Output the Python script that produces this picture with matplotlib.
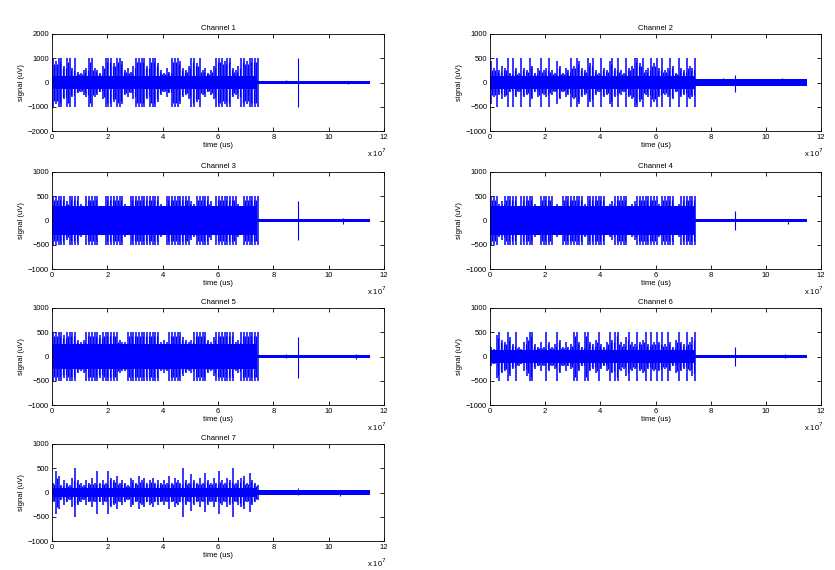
import numpy as np
import matplotlib
matplotlib.use("Agg")
import matplotlib.pyplot as plt

plt.rcParams['font.family'] = ['Liberation Sans', 'DejaVu Sans']

# peak amplitude (uV) per 0.1e7 us bin over the active part (0 .. 7.4e7 us)
ch1_peak = [1000, 900, 1000, 1000, 700, 1000, 1000, 600, 1000,
            450, 400, 500, 600,
            1000, 1000,
            600, 500, 400, 700,
            1000, 1000, 1000, 800, 1000, 1000, 900,
            500, 600, 450, 700,
            1000, 1000, 1000, 1000, 700, 1000, 1000, 1000, 800,
            500, 400, 600, 450,
            1000, 1000, 1000, 900,
            600, 500, 700,
            1000, 1000, 800, 1000,
            500, 600, 400, 500, 700,
            1000, 1000, 1000, 900, 1000, 1000,
            600, 500, 700,
            1000, 1000, 900, 1000, 1000, 1000, 1000]
ch2_peak = [450, 300, 500, 250, 350, 300, 500, 200, 500, 300,
            200, 500, 300, 250, 500, 350, 200, 300, 500, 250,
            300, 500, 250, 200, 450, 350, 200, 300, 250, 500,
            350, 500, 450, 300, 250, 500, 400, 500, 250, 200,
            500, 300, 250, 450, 500, 300, 500, 250, 200, 500,
            300, 350, 500, 500, 400, 500, 250, 300, 500, 400,
            500, 300, 500, 250, 300, 500, 350, 200, 500, 300,
            250, 500, 350, 300, 500]
ch3_peak = [500, 500, 500, 500, 500, 400, 500, 500, 500, 500,
            350, 300, 500, 500, 500, 500, 500, 300, 250, 500,
            500, 500, 500, 500, 500, 500, 350, 300, 500, 500,
            500, 500, 500, 500, 500, 500, 500, 500, 500, 350,
            300, 500, 500, 500, 500, 500, 500, 500, 500, 500,
            400, 350, 500, 500, 500, 500, 500, 400, 300, 500,
            500, 500, 500, 500, 500, 500, 500, 350, 300, 500,
            500, 500, 500, 500, 500]
ch4_peak = [500, 500, 500, 350, 400, 500, 500, 500, 500, 500,
            300, 500, 500, 500, 500, 500, 350, 300, 500, 500,
            500, 500, 500, 300, 350, 300, 500, 500, 500, 500,
            500, 500, 500, 500, 350, 500, 500, 500, 500, 500,
            500, 500, 300, 350, 400, 500, 500, 500, 500, 500,
            300, 350, 400, 500, 500, 500, 500, 500, 500, 500,
            500, 350, 500, 500, 500, 500, 500, 300, 350, 500,
            500, 500, 500, 500, 500]
ch5_peak = [500, 500, 500, 500, 450, 500, 500, 500, 500, 350,
            300, 350, 500, 500, 500, 500, 500, 450, 500, 500,
            500, 500, 500, 500, 350, 300, 300, 500, 500, 500,
            500, 500, 500, 500, 500, 500, 500, 500, 500, 300,
            350, 300, 500, 500, 500, 500, 500, 400, 350, 300,
            350, 500, 500, 500, 500, 500, 350, 300, 400, 500,
            500, 500, 500, 500, 500, 500, 300, 350, 500, 500,
            500, 500, 500, 500, 500]
ch6_peak = [200, 150, 450, 500, 350, 300, 500, 400, 250, 500,
            200, 150, 300, 400, 500, 500, 250, 200, 300, 200,
            500, 300, 200, 250, 500, 350, 200, 300, 200, 250,
            500, 500, 300, 200, 500, 500, 300, 250, 350, 500,
            250, 200, 300, 500, 350, 500, 500, 300, 250, 400,
            500, 300, 250, 500, 300, 350, 500, 250, 500, 300,
            500, 300, 500, 250, 500, 300, 200, 350, 500, 300,
            250, 500, 300, 400, 500]
ch7_peak = [200, 450, 350, 150, 250, 200, 150, 300, 500, 250,
            200, 150, 250, 200, 300, 200, 450, 200, 250, 200,
            450, 300, 250, 350, 200, 250, 200, 150, 300, 250,
            200, 350, 250, 300, 200, 250, 300, 200, 250, 200,
            250, 200, 350, 200, 300, 250, 200, 500, 250, 200,
            380, 250, 200, 300, 200, 400, 250, 200, 300, 200,
            450, 250, 200, 300, 250, 500, 200, 250, 300, 350,
            200, 400, 250, 200, 150]

peaks = [ch1_peak, ch2_peak, ch3_peak, ch4_peak, ch5_peak, ch6_peak, ch7_peak]
# dense core amplitude during active part and during the quiet tail
core_active = [250, 130, 300, 300, 250, 130, 100]
core_tail = [50, 70, 40, 30, 40, 40, 60]
# isolated spikes in the tail: (time x1e7, up, down)
tail_spikes = [
    [(8.45, 100, -20), (8.9, 1000, -1000), (10.7, 20, -80)],
    [(8.45, 100, -40), (8.9, 150, -200), (10.6, 100, -60)],
    [(8.9, 400, -400), (10.5, 60, -80)],
    [(8.9, 200, -200), (10.8, 40, -70)],
    [(8.45, 60, -40), (8.9, 400, -450), (11.0, 50, -60)],
    [(8.9, 200, -200), (10.7, 60, -40)],
    [(8.9, 100, -60), (10.4, 60, -70)],
]
t_active_end = 7.42
t_end = 11.5
bin_step = 0.1

ylims = [2000] + [1000] * 6
ysteps = [1000] + [500] * 6

W, H = 835, 570
fig = plt.figure(figsize=(W / 100, H / 100), dpi=100)

lefts = [52 / W, 490 / W]
tops = [34, 172, 308, 444]
aw = [332 / W, 331 / W]
ah = 97 / H

fs = 5.5
blue = (0, 0, 1)

for i in range(7):
    row, col = i // 2, i % 2
    ax = fig.add_axes([lefts[col], 1 - (tops[row] + 97) / H, aw[col], ah])

    pk = np.array(peaks[i])
    t = np.arange(len(pk)) * bin_step + 0.04
    # dense core
    ax.fill_between([0, t_active_end], -core_active[i], core_active[i],
                    color=blue, lw=0)
    ax.fill_between([t_active_end, t_end], -core_tail[i], core_tail[i],
                    color=blue, lw=0)
    # bursts
    ax.vlines(t, -pk, pk, color=blue, lw=1.1)
    mid = np.minimum(pk[:-1], pk[1:]) * 0.85
    ax.vlines(t[:-1] + 0.05, -mid, mid, color=blue, lw=0.9)
    for (ts, up, dn) in tail_spikes[i]:
        ax.vlines(ts, dn, up, color=blue, lw=0.8)

    ax.set_xlim(0, 12)
    ax.set_ylim(-ylims[i], ylims[i])
    ax.set_xticks(np.arange(0, 13, 2))
    ax.set_yticks(np.arange(-ylims[i], ylims[i] + 1, ysteps[i]))
    ax.tick_params(direction='in', top=True, right=True, labelsize=fs,
                   length=3, width=0.6, pad=2)
    for s in ax.spines.values():
        s.set_linewidth(0.6)
    ax.set_title('Channel %d' % (i + 1), fontsize=fs, pad=3)
    ax.set_xlabel('time (us)', fontsize=fs, labelpad=1)
    ax.set_ylabel('signal (uV)', fontsize=fs, labelpad=2)
    ax.text(0.95, -0.22, r'x 10$^7$', transform=ax.transAxes,
            fontsize=fs, ha='left', va='center')

fig.savefig('out.png', dpi=100)
